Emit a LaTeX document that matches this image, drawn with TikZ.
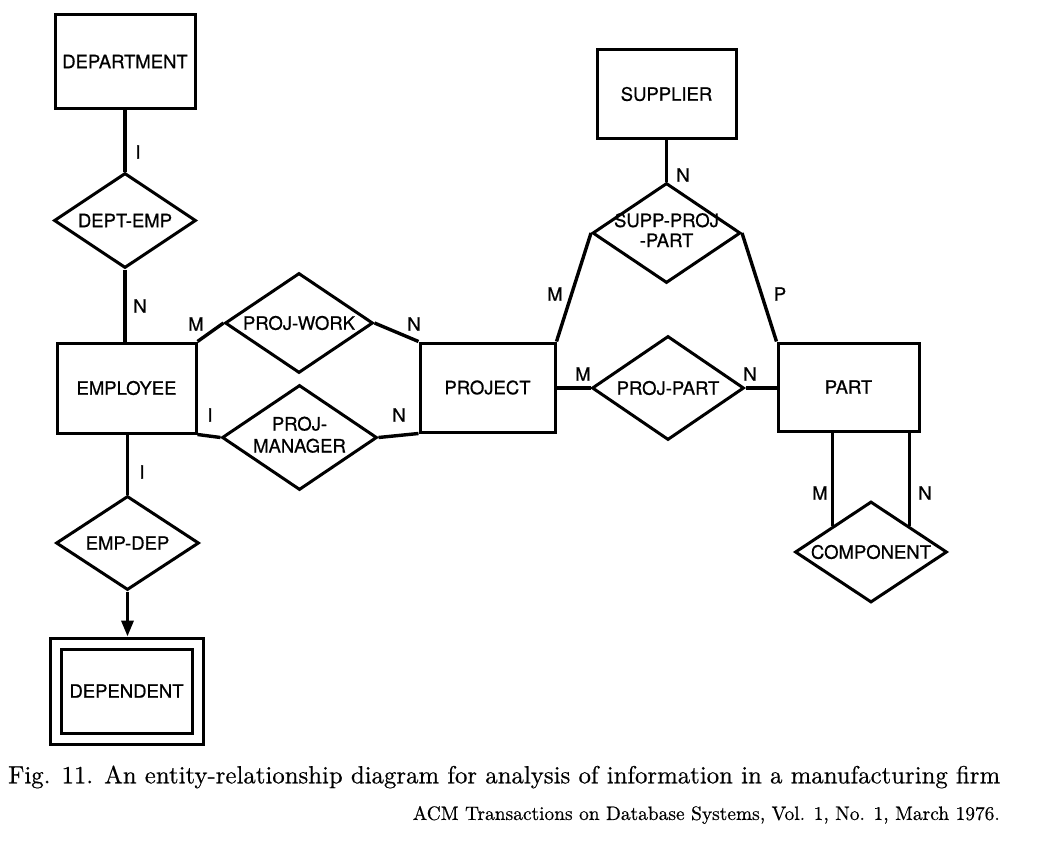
\documentclass[tikz,border=0pt]{standalone}
\usepackage{fontspec}
\newfontfamily\erfont[FakeBold=0.6]{TeX Gyre Heros}
\newfontfamily\capfont[FakeBold=0.5]{lmroman10-regular.otf}
\usetikzlibrary{shapes.geometric,arrows.meta}
\tikzset{
  er/.style={line width=3pt},
  entity/.style={er,draw,rectangle,inner sep=0pt,font=\erfont\fontsize{18.5}{20}\selectfont},
  rel/.style={er,draw,diamond,inner sep=0pt,font=\erfont\fontsize{18.5}{20}\selectfont},
  card/.style={inner sep=0pt,font=\erfont\fontsize{18.5}{20}\selectfont},
  conn/.style={line width=3.4pt}
}
\newcommand{\zb}[1]{\makebox[0pt]{#1}}
\begin{document}
\begin{tikzpicture}[x=1pt,y=-1pt]
\useasboundingbox (0,0) rectangle (1039,851);
% entities
\node[entity,minimum width=140pt,minimum height=93pt] (dept) at (125,61.5) {DEPARTMENT};
\node[entity,minimum width=139pt,minimum height=90pt] (emp) at (126.5,388) {EMPLOYEE};
\node[entity,minimum width=135pt,minimum height=89pt] (proj) at (487.5,387.5) {PROJECT};
\node[entity,minimum width=141pt,minimum height=88pt] (part) at (848.5,387) {PART};
\node[entity,minimum width=139pt,minimum height=88pt] (supp) at (666.5,94) {SUPPLIER};
\node[entity,minimum width=153pt,minimum height=106pt] (dep) at (126.5,691) {DEPENDENT};
\node[er,draw,rectangle,inner sep=0pt,minimum width=131pt,minimum height=84pt] (depin) at (126.5,691.5) {};
% relationships
\node[rel,minimum width=142pt,minimum height=95pt] (deptemp) at (125,220.5) {\zb{DEPT-EMP}};
\node[rel,minimum width=148pt,minimum height=100pt] (projwork) at (299,323) {\zb{PROJ-WORK}};
\node[rel,minimum width=155pt,minimum height=105pt] (projman) at (299.5,437.5) {\zb{\begin{tabular}{@{}c@{}}PROJ-\\[2pt]MANAGER\end{tabular}}};
\node[rel,minimum width=152pt,minimum height=104pt] (projpart) at (668,388) {\zb{PROJ-PART}};
\node[rel,minimum width=148pt,minimum height=100pt] (spp) at (666.5,233) {\zb{\begin{tabular}{@{}c@{}}SUPP-PROJ\\-PART\end{tabular}}};
\node[rel,minimum width=152pt,minimum height=101pt] (comp) at (871,552) {\zb{COMPONENT}};
\node[rel,minimum width=143pt,minimum height=94pt] (empdep) at (127.5,543) {\zb{EMP-DEP}};
% connectors
\draw[conn] (dept.south) -- (deptemp.north);
\draw[conn] (deptemp.south) -- (deptemp.south |- emp.north);
\draw[conn] (emp.north east) -- (projwork.west);
\draw[conn] (projwork.east) -- (proj.north west);
\draw[conn] (emp.south east) -- (projman.west);
\draw[conn] (projman.east) -- (proj.south west);
\draw[conn] (proj.east |- projpart.west) -- (projpart.west);
\draw[conn] (projpart.east) -- (part.west |- projpart.east);
\draw[conn] (supp.south) -- (spp.north);
\draw[conn] (spp.west) -- (proj.north east);
\draw[conn] (spp.east) -- (part.north west);
\draw[conn] (comp.north west |- part.south) -- (comp.north west);
\draw[conn] (comp.north east |- part.south) -- (comp.north east);
\draw[conn] (empdep.north |- emp.south) -- (empdep.north);
\draw[conn,-{Triangle[width=12pt,length=16pt]}] (empdep.south) -- (empdep.south |- dep.north);
% cardinalities
\node[card] (c1) at (138,152) {I};
\node[card] (c2) at (140,306) {N};
\node[card] (c3) at (196,324) {M};
\node[card] (c4) at (414,324) {N};
\node[card] (c5) at (210,415) {I};
\node[card] (c6) at (399,415) {N};
\node[card] (c7) at (583,374) {M};
\node[card] (c8) at (750,374) {N};
\node[card] (c9) at (683,175) {N};
\node[card] (c10) at (555,294) {M};
\node[card] (c11) at (780,294) {P};
\node[card] (c12) at (820,493) {M};
\node[card] (c13) at (925,493) {N};
\node[card] (c14) at (142,472) {I};
% caption
\node[anchor=west,inner sep=0pt,font=\capfont] (cap1) at (8,777) {\resizebox{992pt}{!}{Fig. 11. An entity-relationship diagram for analysis of information in a manufacturing firm}};
\node[anchor=east,inner sep=0pt,font=\capfont] (cap2) at (1000,815) {\resizebox{587pt}{!}{ACM Transactions on Database Systems, Vol. 1, No. 1, March 1976.}};
\end{tikzpicture}
\end{document}
